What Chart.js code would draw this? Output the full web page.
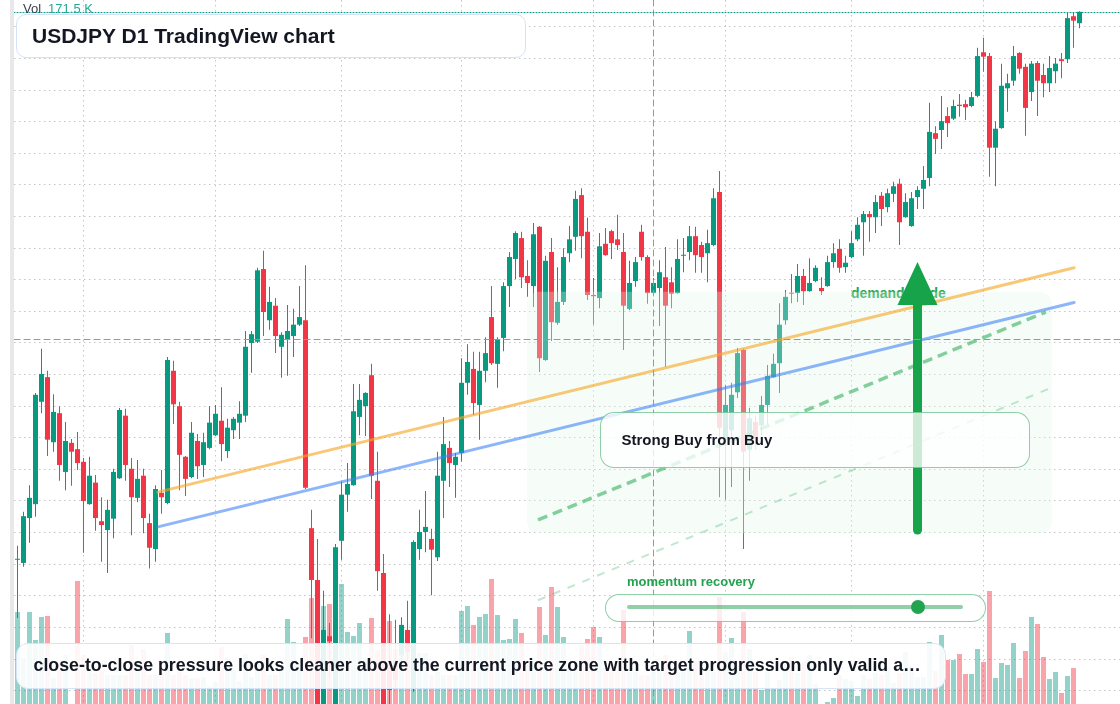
<!DOCTYPE html>
<html>
<head>
<meta charset="utf-8">
<title>USDJPY D1 TradingView chart</title>
<script src="https://cdn.jsdelivr.net/npm/chart.js@4.4.1/dist/chart.umd.min.js"></script>
<style>
  html, body { margin:0; padding:0; background:#ffffff; }
  body { width:1120px; height:704px; overflow:hidden; position:relative; font-family:"Liberation Sans", Arial, Helvetica, sans-serif; }
  #chart { position:absolute; left:0; top:0; z-index:1; }
  .band { position:absolute; left:10px; top:0; width:4px; height:704px; background:#e8e8eb; z-index:0; }
  .under { position:absolute; z-index:0; }
  .over { position:absolute; z-index:2; box-sizing:border-box; }
  #vol { left:23px; top:1px; font-size:13px; line-height:15px; color:#3a3e4a; white-space:nowrap; }
  #vol span { color:#22ab94; margin-left:7px; }
  #title { left:16px; top:14px; width:510px; height:44px; border:1px solid #d3e2f7; border-radius:10px; background:rgba(255,255,255,0.94); padding-left:15px; font-weight:bold; font-size:21px; line-height:42px; color:#131722; white-space:nowrap; }
  #demand { left:851px; top:285px; font-weight:bold; font-size:14px; line-height:16px; color:rgb(30,165,80); white-space:nowrap; }
  #signal { left:600px; top:412px; width:430px; height:56px; border:1.5px solid rgba(34,160,80,0.5); border-radius:14px; background:rgba(255,255,255,0.78); padding-left:20.5px; font-weight:bold; font-size:15px; line-height:53px; color:#131722; white-space:nowrap; }
  #momLabel { left:627px; top:574px; font-weight:bold; font-size:13px; line-height:15px; color:#22a34f; white-space:nowrap; }
  #pill { left:605px; top:594px; width:381px; height:28px; border:1.5px solid rgba(34,160,80,0.5); border-radius:14px; background:rgba(255,255,255,0.8); }
  #track { left:627px; top:605px; width:336px; height:4px; background:rgba(34,160,80,0.5); border-radius:2px; }
  #knob { width:14px; height:14px; border-radius:7px; background:#22a34f; top:600px; }
  #caption { left:16px; top:643px; width:930px; height:46px; border:1.5px solid #d6e4fa; border-radius:12px; background:rgba(255,255,255,0.9); padding:0 4px 0 16.5px; font-weight:bold; font-size:17.8px; line-height:43px; color:#131722; white-space:nowrap; overflow:hidden; }
</style>
</head>
<body>
<div class="band"></div>
<div class="under" id="demand">demand guide</div>
<canvas id="chart" width="1120" height="704"></canvas>
<div class="over" id="vol">Vol<span>171.5 K</span></div>
<div class="over" id="title">USDJPY D1 TradingView chart</div>
<div class="over" id="signal">Strong Buy from Buy</div>
<div class="over" id="momLabel">momentum recovery</div>
<div class="over" id="pill"></div>
<div class="over" id="track"></div>
<div class="over" id="knob"></div>
<div class="over" id="caption">close-to-close pressure looks cleaner above the current price zone with target progression only valid a…</div>
<script>
// ---- Daily OHLC (USDJPY) ----
const opens = [
146.57,146.52,147.23,147.45,149.07,149.46,148.43,148.89,147.96,148.42,
148.32,148.12,147.45,147.79,147.18,147.04,147.22,147.86,148.85,148.01,
147.55,147.90,147.15,146.74,147.63,147.47,149.56,149.00,148.20,147.88,
148.45,148.07,148.34,148.54,148.77,148.29,148.62,148.74,148.85,150.00,
150.02,151.17,150.36,150.59,149.94,150.06,150.11,150.29,150.36,147.07,
146.25,144.11,145.36,144.16,146.87,147.60,147.75,148.83,149.00,149.49,
147.82,146.36,144.86,144.98,145.06,145.46,144.54,146.74,147.01,146.90,
146.61,147.82,148.34,148.07,148.26,149.37,149.59,149.02,149.56,150.41,
149.67,150.08,150.90,151.33,151.66,151.06,150.90,151.84,149.73,151.44,
150.32,150.65,151.42,151.68,152.34,151.76,150.76,150.71,151.57,151.77,
151.64,151.44,150.54,150.98,151.76,151.36,150.79,150.87,151.04,150.96,
150.79,151.38,151.44,151.69,151.55,151.42,151.55,152.39,148.47,148.62,
149.22,149.89,148.31,148.75,148.70,149.02,149.46,149.68,150.36,150.79,
150.79,151.06,150.82,150.98,150.87,150.90,151.28,151.49,151.20,151.36,
151.64,151.91,152.04,151.99,152.33,152.15,152.36,152.52,151.99,151.85,
152.31,152.44,152.61,153.32,153.37,153.59,153.55,153.77,153.78,153.75,
153.91,154.60,154.54,153.09,153.40,154.03,154.15,154.59,154.37,153.97,
154.43,154.24,154.11,154.30,154.49,154.49,155.17,155.06];
const highs = [
146.79,147.33,147.75,149.21,149.91,149.56,149.19,149.00,148.75,148.48,
148.59,148.18,148.20,147.91,147.56,147.52,148.01,148.97,148.96,148.18,
148.15,148.01,147.30,147.75,147.99,149.78,149.72,149.07,148.21,148.75,
148.56,148.58,149.00,149.02,149.30,148.80,148.83,149.08,150.19,150.19,
151.19,151.46,150.89,150.71,150.17,150.60,150.54,150.90,151.23,147.36,
146.90,146.08,145.57,146.82,147.80,148.10,149.35,149.35,149.22,149.67,
148.28,146.66,145.71,145.62,145.66,145.92,146.88,147.36,147.66,147.06,
148.28,148.83,148.45,148.26,149.76,149.98,149.86,149.86,150.09,150.90,
150.09,150.96,151.44,151.77,151.76,151.31,151.90,151.85,151.38,151.66,
151.20,151.50,151.85,152.41,152.45,151.98,151.03,151.74,151.82,151.79,
152.03,151.74,151.30,151.36,151.87,151.39,151.03,151.31,151.52,151.20,
151.64,151.66,151.85,151.84,151.60,151.79,152.45,152.72,149.34,149.37,
149.92,149.91,148.97,148.85,149.16,149.65,149.83,150.63,150.84,151.09,
151.25,151.17,151.34,151.23,151.04,151.38,151.58,151.64,151.38,151.77,
151.99,152.09,152.09,152.34,152.39,152.44,152.55,152.60,152.37,152.39,
152.48,152.80,153.80,153.43,153.91,153.73,153.85,153.94,153.85,153.97,
154.67,154.83,154.59,153.51,154.42,154.26,154.70,154.60,154.42,154.46,
154.46,154.42,154.54,154.51,154.59,155.22,155.22,155.25];
const lows = [
145.65,146.46,146.84,147.25,148.89,148.21,148.28,147.82,147.67,147.74,
147.99,146.68,147.44,147.03,146.54,146.36,146.91,147.85,147.82,146.96,
147.48,146.99,146.43,146.54,147.30,147.45,148.72,147.67,147.58,147.86,
147.85,147.88,148.32,148.53,148.13,148.18,148.48,148.48,148.75,149.53,
150.00,150.11,150.21,149.84,149.45,149.48,149.78,150.27,147.69,145.33,
143.88,144.00,144.70,144.10,146.57,147.33,147.74,148.54,148.53,147.53,
146.08,144.04,144.10,144.54,144.86,144.91,144.48,146.57,146.69,146.01,
146.55,147.23,147.72,147.55,148.12,149.18,148.86,148.47,149.38,149.65,
149.29,149.87,150.57,151.01,150.87,150.73,150.57,149.54,149.72,150.03,
150.29,150.60,151.28,151.46,151.34,150.68,150.29,150.55,151.38,151.33,
151.47,149.89,150.52,150.89,151.30,150.62,150.76,150.27,149.62,150.55,
150.78,151.12,151.31,151.11,151.11,150.96,151.53,147.56,147.52,147.72,
149.13,146.74,147.82,148.31,148.54,148.72,149.45,149.21,150.29,150.63,
150.65,150.60,150.81,150.96,150.76,150.89,151.19,151.11,151.11,151.34,
151.61,151.38,151.60,151.74,151.85,152.07,152.23,151.55,151.98,151.84,
152.12,152.12,152.48,152.99,153.07,153.26,153.53,153.58,153.53,153.73,
153.89,154.29,152.63,152.48,153.39,153.66,154.07,154.26,153.28,153.83,
153.59,153.89,153.97,154.11,154.19,154.43,154.67,154.98];
const closes = [
146.58,147.26,147.55,149.18,149.51,148.47,148.91,148.07,148.45,148.28,
148.10,147.50,147.90,147.23,147.12,147.36,147.96,148.94,148.07,147.56,
147.85,147.23,146.76,147.69,147.56,149.73,149.03,148.23,147.85,148.58,
148.05,148.43,148.74,148.88,148.40,148.66,148.80,148.88,149.94,150.14,
151.15,150.49,150.65,150.11,150.13,150.19,150.29,150.41,147.71,146.25,
144.16,145.46,145.28,146.77,147.60,147.77,148.92,149.10,149.21,147.90,
146.39,144.19,144.51,144.67,145.54,145.11,146.85,147.01,147.09,146.73,
147.90,148.40,148.10,148.20,149.37,149.70,149.05,149.56,149.84,149.68,
150.06,150.90,151.36,151.74,151.04,150.95,151.72,149.76,151.30,150.33,
150.65,151.36,151.64,152.28,151.69,150.76,150.74,151.53,151.39,151.58,
151.55,150.59,150.95,151.28,151.36,150.79,150.95,151.12,150.59,150.78,
151.33,151.39,151.69,151.39,151.36,151.58,152.29,148.66,149.02,149.18,
149.84,148.28,148.81,148.48,149.02,149.48,149.67,150.29,150.73,150.78,
151.06,150.82,150.95,151.19,150.82,151.28,151.42,151.19,151.27,151.58,
151.87,152.04,151.99,152.23,152.12,152.37,152.48,151.91,152.23,152.29,
152.42,152.58,153.34,153.23,153.51,153.48,153.75,153.75,153.73,153.89,
154.54,154.53,153.09,153.39,154.07,154.11,154.54,154.34,153.72,154.42,
154.15,154.11,154.35,154.42,154.46,155.14,155.10,155.24];
// ---- Volume (K) ----
const volumes = [
493.1,246.6,493.1,343.0,466.3,471.7,139.4,219.8,262.6,0,
659.3,262.6,171.5,166.2,182.2,155.4,155.4,155.4,155.4,316.2,
225.1,294.8,155.4,155.4,193.0,380.6,155.4,171.5,155.4,139.4,
139.4,144.7,96.5,117.9,305.5,246.6,182.2,123.3,268.0,144.7,
219.8,262.6,155.4,155.4,198.3,455.6,332.3,209.0,359.1,568.2,
503.8,525.3,536.0,450.2,643.2,385.9,364.5,434.2,235.8,461.0,
289.4,343.0,444.9,294.8,396.6,380.6,123.3,273.4,273.4,155.4,
171.5,155.4,155.4,155.4,498.5,525.3,423.4,466.3,482.4,670.0,
477.0,343.0,348.4,455.6,380.6,209.0,235.8,519.9,369.8,627.1,
519.9,359.1,198.3,198.3,316.2,348.4,412.7,359.1,193.0,230.5,
171.5,503.8,171.5,171.5,155.4,155.4,171.5,182.2,262.6,171.5,
171.5,171.5,391.3,225.1,155.4,182.2,171.5,573.5,278.7,353.8,
209.0,493.1,294.8,171.5,75.0,171.5,85.8,128.6,214.4,251.9,
166.2,225.1,262.6,107.2,0,10.7,32.2,155.4,134.0,123.3,
42.9,155.4,134.0,166.2,155.4,198.3,112.6,166.2,278.7,198.3,
144.7,144.7,332.3,176.9,369.8,235.8,235.8,268.0,160.8,160.8,
294.8,225.1,605.7,139.4,219.8,209.0,327.0,139.4,284.1,466.3,
428.8,251.9,134.0,171.5,59.0,150.1,193.0,null];

// ---- Axis ticks ----
const priceTicks = [144.5,145,145.5,146,146.5,147,147.5,148,148.5,149,149.5,150,150.5,151,151.5,152,152.5,153,153.5,154,154.5,155];
const monthTicks = [11,33,54,74,96,118,139,161];

// ---- Annotations in data coordinates [barIndex, price] ----
const crosshair = { index: 106, price: 150.07 };
const trendOrange = [[23.4, 147.64], [176.1, 151.19]];
const trendBlue = [[23.4, 147.09], [176.1, 150.64]];
const projStrong = [[86.75, 147.20], [171.4, 150.49]];
const projLight = [[86.75, 145.93], [171.75, 149.27]];
const demandZone = { from: 84.9, to: 172.4, low: 146.99, high: 150.81 };
const arrowUp = { index: 150, from: 147.04, to: 151.28 };
const momentumValue = 0.866;

const UP = '#089981', DOWN = '#f23645';
const idx = opens.map((_, i) => i);
const isUp = i => closes[i] >= opens[i];
const candleColor = c => isUp(c.dataIndex) ? UP : DOWN;
const volColor = c => isUp(c.dataIndex) ? 'rgba(8,153,129,0.44)' : 'rgba(242,54,69,0.45)';

function rr(ctx, x, y, w, h, r) {
  ctx.beginPath();
  if (ctx.roundRect) { ctx.roundRect(x, y, w, h, r); }
  else { ctx.rect(x, y, w, h); }
}

const overlayPlugin = {
  id: 'overlays',
  afterDatasetsDraw(chart) {
    const { ctx, chartArea: a, scales: { x, y } } = chart;
    const px = v => x.getPixelForValue(v), py = v => y.getPixelForValue(v);
    ctx.save();
    ctx.beginPath(); ctx.rect(a.left, a.top, a.right - a.left, a.bottom - a.top); ctx.clip();

    // demand zone shading
    const zx1 = px(demandZone.from), zx2 = px(demandZone.to);
    const zy1 = py(demandZone.high), zy2 = py(demandZone.low);
    ctx.fillStyle = 'rgba(225,248,232,0.3)';
    rr(ctx, zx1, zy1, zx2 - zx1, zy2 - zy1, 12); ctx.fill();

    const seg = (pts, color, w, dash) => {
      ctx.beginPath(); ctx.setLineDash(dash || []);
      ctx.strokeStyle = color; ctx.lineWidth = w; ctx.lineCap = dash ? 'butt' : 'round';
      ctx.moveTo(px(pts[0][0]), py(pts[0][1])); ctx.lineTo(px(pts[1][0]), py(pts[1][1])); ctx.stroke();
    };
    seg(projLight, 'rgba(34,170,80,0.28)', 2, [8, 8]);
    seg(projStrong, 'rgba(34,170,80,0.55)', 3.5, [10, 6]);
    seg(trendOrange, 'rgba(245,166,35,0.62)', 3);
    seg(trendBlue, 'rgba(59,130,246,0.58)', 3);
    ctx.setLineDash([]);

    // up arrow
    const ax = px(arrowUp.index), ay0 = py(arrowUp.from), ay1 = py(arrowUp.to);
    ctx.strokeStyle = '#16a34a'; ctx.fillStyle = '#16a34a';
    ctx.lineWidth = 9; ctx.lineCap = 'round';
    ctx.beginPath(); ctx.moveTo(ax, ay0); ctx.lineTo(ax, ay1 + 40); ctx.stroke();
    ctx.beginPath(); ctx.moveTo(ax, ay1); ctx.lineTo(ax - 20, ay1 + 43); ctx.lineTo(ax + 20, ay1 + 43); ctx.closePath(); ctx.fill();

    // crosshair
    ctx.strokeStyle = '#9598a1'; ctx.lineWidth = 1; ctx.setLineDash([6, 4]);
    const cx = Math.round(px(crosshair.index)) + 0.5, cy = Math.round(py(crosshair.price)) + 0.5;
    ctx.beginPath(); ctx.moveTo(cx, a.top); ctx.lineTo(cx, a.bottom); ctx.stroke();
    ctx.beginPath(); ctx.moveTo(a.left, cy); ctx.lineTo(a.right, cy); ctx.stroke();

    // last price line
    const ly = Math.round(py(closes[closes.length - 1])) + 0.5;
    ctx.strokeStyle = '#089981'; ctx.setLineDash([1, 2]);
    ctx.beginPath(); ctx.moveTo(a.left, ly); ctx.lineTo(a.right, ly); ctx.stroke();
    ctx.restore();
  }
};

new Chart(document.getElementById('chart'), {
  type: 'bar',
  data: {
    datasets: [
      { label: 'Body', data: idx.map(i => ({ x: i, y: [opens[i], closes[i]] })), backgroundColor: candleColor,
        barThickness: 5, minBarLength: 1, grouped: false, order: 1, yAxisID: 'y', inflateAmount: 0, borderWidth: 0 },
      { label: 'Wick', data: idx.map(i => ({ x: i, y: [lows[i], highs[i]] })), backgroundColor: candleColor,
        barThickness: 1, grouped: false, order: 2, yAxisID: 'y', inflateAmount: 0, borderWidth: 0 },
      { label: 'Volume', data: idx.map(i => ({ x: i, y: volumes[i] })), backgroundColor: volColor,
        barThickness: 5, grouped: false, order: 3, yAxisID: 'yVol', inflateAmount: 0, borderWidth: 0 }
    ]
  },
  options: {
    responsive: false, animation: false, devicePixelRatio: 1, events: [],
    layout: { padding: { left: 14, right: 0, top: 0, bottom: 0 } },
    plugins: { legend: { display: false }, tooltip: { enabled: false } },
    scales: {
      x: {
        type: 'linear', min: -0.5833, max: 183.75, offset: false,
        afterFit: s => { s.height = 0; },
        afterBuildTicks: s => { s.ticks = monthTicks.map(v => ({ value: v })); },
        ticks: { display: false },
        grid: { offset: false, drawTicks: false, color: 'rgba(150,150,150,0.55)' },
        border: { display: false, dash: [1.5, 3.5] }
      },
      y: {
        type: 'linear', position: 'left', min: 144.288, max: 155.427,
        afterFit: s => { s.width = 0; },
        afterBuildTicks: s => { s.ticks = priceTicks.map(v => ({ value: v })); },
        ticks: { display: false },
        grid: { drawTicks: false, color: 'rgba(150,150,150,0.55)' },
        border: { display: false, dash: [1.5, 3.5] }
      },
      yVol: { type: 'linear', display: false, min: 0, max: 3773.4 }
    }
  },
  plugins: [overlayPlugin]
});

document.getElementById('knob').style.left = (627 + momentumValue * 336 - 7) + 'px';
</script>
</body>
</html>
